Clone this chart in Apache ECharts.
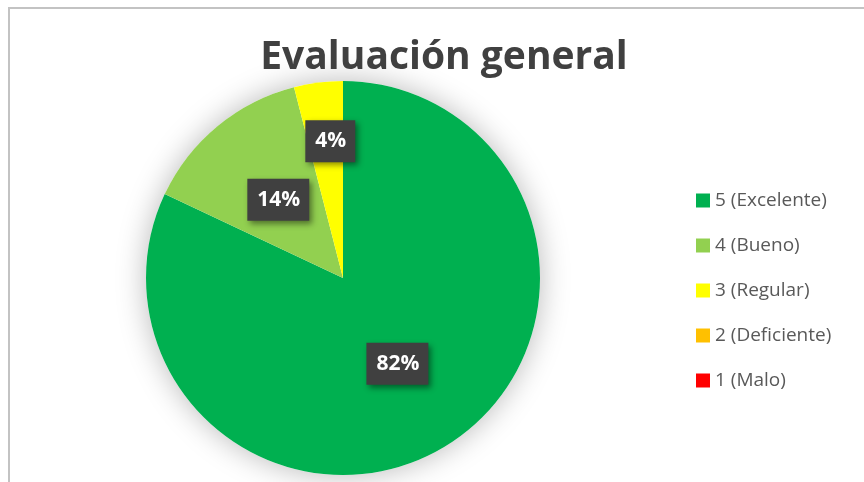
<!DOCTYPE html>
<html>
<head>
<meta charset="utf-8">
<script src="https://cdn.jsdelivr.net/npm/echarts@6/dist/echarts.min.js"></script>
<style>
    body { margin: 0; background: #fff; }
    #wrap { position: relative; width: 864px; height: 482px; overflow: hidden; }
    #frame { position: absolute; left: 8px; top: 7px; width: 900px; height: 520px;
             border-top: 2px solid #c3c3c3; border-left: 2px solid #c3c3c3; }
    #chart { position: absolute; left: 0; top: 0; width: 864px; height: 482px; }
</style>
</head>
<body>
<div id="wrap">
    <div id="frame"></div>
    <div id="chart"></div>
</div>
<script>
const categories = ['5 (Excelente)', '4 (Bueno)', '3 (Regular)', '2 (Deficiente)', '1 (Malo)'];
const values = [82, 14, 4, 0, 0];
const colors = ['#00B050', '#92D050', '#FFFF00', '#FFC000', '#FF0000'];

const chart = echarts.init(document.getElementById('chart'));
const total = values.reduce((a, b) => a + b, 0);

const option = {
    animation: false,
    title: {
        text: 'Evaluación general',
        left: 439,
        top: 33,
        textAlign: 'center',
        textStyle: {
            fontFamily: 'Open Sans',
            fontWeight: 'bold',
            fontSize: 39,
            color: '#404040'
        }
    },
    legend: {
        orient: 'vertical',
        left: 691,
        top: 186,
        itemWidth: 14,
        itemHeight: 14,
        itemGap: 26,
        icon: 'rect',
        data: categories,
        textStyle: {
            fontFamily: 'Open Sans',
            fontSize: 19,
            color: '#595959'
        }
    },
    series: [
        {
            // outer soft shadow behind the pie
            type: 'pie',
            silent: true,
            center: [343, 278],
            radius: 197,
            z: 1,
            label: { show: false },
            labelLine: { show: false },
            itemStyle: {
                color: '#ffffff',
                shadowColor: 'rgba(0,0,0,0.28)',
                shadowBlur: 30
            },
            data: [{ name: '', value: total }]
        },
        {
            type: 'pie',
            center: [343, 278],
            radius: 197,
            z: 2,
            startAngle: 90,
            clockwise: true,
            itemStyle: { borderWidth: 0 },
            labelLine: { show: false },
            label: {
                position: 'inside',
                formatter: p => Math.round(p.percent) + '%',
                fontFamily: 'Open Sans',
                fontWeight: 'bold',
                fontSize: 21,
                color: '#ffffff',
                backgroundColor: '#404040',
                padding: [11, 9, 10, 10],
                shadowColor: 'rgba(0,0,0,0.45)',
                shadowBlur: 6,
                shadowOffsetX: 3,
                shadowOffsetY: 3
            },
            labelLayout: p => (p.dataIndex === 2 ? { dy: -36 } : {}),
            data: categories.map((c, i) => ({
                name: c,
                value: values[i],
                itemStyle: { color: colors[i] },
                label: { show: values[i] > 0 }
            }))
        }
    ]
};

chart.setOption(option);
window.addEventListener('resize', () => chart.resize(), { passive: true });
</script>
</body>
</html>
